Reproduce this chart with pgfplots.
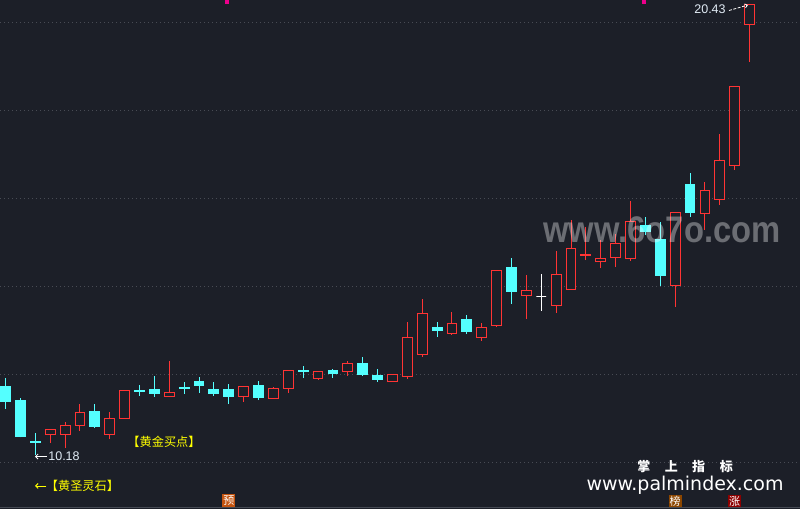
\documentclass[border=0pt]{standalone}
\usepackage{pgfplots}
\pgfplotsset{compat=1.18}
\usepackage{fontspec}
\setmainfont{Liberation Sans}
\newfontfamily\cjk{Noto Sans CJK SC}
\newfontfamily\dvs{DejaVu Sans}
\usetikzlibrary{arrows.meta}
\definecolor{bg}{RGB}{28,31,40}
\definecolor{cup}{RGB}{255,52,52}
\definecolor{cdn}{RGB}{84,255,255}
\definecolor{cgrid}{RGB}{72,75,84}
\definecolor{clabel}{RGB}{225,235,245}
\definecolor{cyel}{RGB}{255,255,0}
\definecolor{cyu}{RGB}{196,84,16}
\definecolor{cbang}{RGB}{140,70,0}
\definecolor{czhang}{RGB}{140,0,0}
\definecolor{cborder}{RGB}{70,74,84}
\tikzset{
 up wick/.style={draw=cup, line width=1bp},
 up body/.style={draw=cup, fill=bg, line width=1bp},
 dn wick/.style={draw=cdn, line width=1bp},
 dn body/.style={draw=cdn, fill=cdn, line width=1bp},
 wt wick/.style={draw=white, line width=1bp},
 wt body/.style={draw=white, fill=white, line width=1bp},
}
% #1 type, #2 index, #3 open, #4 high, #5 low, #6 close
\newcommand\cdl[6]{%
 \pgfmathsetmacro\xl{#2-0.33}\pgfmathsetmacro\xr{#2+0.33}%
 \addplot[#1 wick] coordinates {(#2,#5) (#2,#4)};
 \addplot[#1 body] coordinates {(\xl,#3) (\xr,#3) (\xr,#6) (\xl,#6)} -- cycle;
}
\begin{document}
\begin{tikzpicture}
\begin{axis}[
  width=800bp, height=509bp, scale only axis,
  xmin=-0.376, xmax=53.39, ymin=8.9545, ymax=20.5227,
  axis background/.style={fill=bg},
  axis line style={draw=none},
  xtick=\empty,
  ytick={10,12,14,16,18,20}, yticklabels={}, ytick style={draw=none},
  major tick length=0pt,
  ymajorgrids, grid style={cgrid, line width=1bp, dash pattern=on 1bp off 3bp},
]
\coordinate (bl) at (rel axis cs:0,0);
\coordinate (tr) at (rel axis cs:1,1);
\cdl{dn}{0}{11.73}{11.94}{11.23}{11.39}
\cdl{dn}{1}{11.41}{11.48}{10.58}{10.60}
\cdl{dn}{2}{10.49}{10.68}{10.18}{10.47}
\cdl{up}{3}{10.65}{10.75}{10.46}{10.75}
\cdl{up}{4}{10.65}{10.93}{10.35}{10.86}
\cdl{up}{5}{10.86}{11.34}{10.73}{11.14}
\cdl{dn}{6}{11.16}{11.34}{10.80}{10.83}
\cdl{up}{7}{10.64}{11.17}{10.55}{11.02}
\cdl{up}{8}{11.01}{11.65}{11.01}{11.65}
\cdl{dn}{9}{11.65}{11.77}{11.53}{11.63}
\cdl{dn}{10}{11.68}{11.98}{11.51}{11.57}
\cdl{up}{11}{11.51}{12.32}{11.51}{11.61}
\cdl{dn}{12}{11.72}{11.84}{11.57}{11.70}
\cdl{dn}{13}{11.85}{11.95}{11.60}{11.77}
\cdl{dn}{14}{11.66}{11.84}{11.53}{11.59}
\cdl{dn}{15}{11.68}{11.80}{11.35}{11.51}
\cdl{up}{16}{11.51}{11.74}{11.39}{11.74}
\cdl{dn}{17}{11.75}{11.86}{11.43}{11.48}
\cdl{up}{18}{11.47}{11.73}{11.47}{11.70}
\cdl{up}{19}{11.69}{12.11}{11.60}{12.11}
\cdl{dn}{20}{12.11}{12.20}{11.93}{12.08}
\cdl{up}{21}{11.92}{12.08}{11.89}{12.08}
\cdl{dn}{22}{12.11}{12.14}{11.93}{12.03}
\cdl{up}{23}{12.08}{12.32}{11.98}{12.27}
\cdl{dn}{24}{12.25}{12.41}{11.98}{12.00}
\cdl{dn}{25}{11.98}{12.14}{11.85}{11.89}
\cdl{up}{26}{11.85}{12.02}{11.85}{12.02}
\cdl{up}{27}{11.96}{13.20}{11.92}{12.86}
\cdl{up}{28}{12.46}{13.73}{12.42}{13.40}
\cdl{dn}{29}{13.08}{13.21}{12.87}{13.02}
\cdl{up}{30}{12.94}{13.43}{12.92}{13.18}
\cdl{dn}{31}{13.27}{13.36}{12.93}{12.98}
\cdl{up}{32}{12.85}{13.18}{12.78}{13.08}
\cdl{up}{33}{13.12}{14.38}{13.09}{14.38}
\cdl{dn}{34}{14.45}{14.66}{13.62}{13.89}
\cdl{up}{35}{13.80}{14.27}{13.27}{13.93}
\cdl{wt}{36}{13.79}{14.30}{13.46}{13.79}
\cdl{up}{37}{13.58}{14.82}{13.42}{14.29}
\cdl{up}{38}{13.95}{15.52}{13.95}{14.88}
\cdl{up}{39}{14.71}{15.36}{14.61}{14.74}
\cdl{up}{40}{14.58}{15.07}{14.43}{14.65}
\cdl{up}{41}{14.68}{15.20}{14.46}{14.99}
\cdl{up}{42}{14.65}{15.95}{14.60}{15.49}
\cdl{dn}{43}{15.39}{15.59}{15.19}{15.25}
\cdl{dn}{44}{15.07}{15.48}{14.03}{14.27}
\cdl{up}{45}{14.03}{15.70}{13.55}{15.70}
\cdl{dn}{46}{16.34}{16.59}{15.60}{15.69}
\cdl{up}{47}{15.67}{16.39}{15.30}{16.20}
\cdl{up}{48}{15.98}{17.48}{15.87}{16.88}
\cdl{up}{49}{16.76}{18.56}{16.67}{18.56}
\cdl{up}{50}{19.96}{20.43}{19.12}{20.43}
% magenta signal marks
\addplot[only marks, mark=square*, mark size=1.5bp, color=magenta] coordinates {(14.86,20.49) (42.86,20.49)};
% watermark
\node[anchor=base, inner sep=0, text=white, opacity=0.35, xscale=0.885,
  font=\bfseries\fontsize{37bp}{40bp}\selectfont] at (rel axis cs:0.8275,0.5226) {www.6o7o.com};
% price annotations
\node[inner sep=0, text=clabel, font=\fontsize{12.5bp}{14bp}\selectfont] at (rel axis cs:0.8875,0.9813) {20.43};
\draw[white, line width=0.8bp, dash pattern=on 3bp off 1.5bp, -{Straight Barb[length=2.5bp,width=4bp]}]
  (rel axis cs:0.91125,0.97937) -- (rel axis cs:0.935,0.99018);
\draw[white, line width=0.8bp, -{Straight Barb[length=2.5bp,width=5bp]}]
  (rel axis cs:0.05875,0.10314) -- (rel axis cs:0.04375,0.10314);
\node[inner sep=0, text=clabel, font=\fontsize{12.5bp}{14bp}\selectfont] at (rel axis cs:0.08,0.10472) {10.18};
% yellow texts
\node[inner sep=0, text=cyel, font=\cjk\fontsize{12.2bp}{14bp}\selectfont] at (rel axis cs:0.205,0.13163) {【黄金买点】};
\draw[cyel, line width=0.9bp, -{Straight Barb[length=2.5bp,width=5bp]}]
  (rel axis cs:0.0581,0.04519) -- (rel axis cs:0.04375,0.04519);
\node[inner sep=0, text=cyel, font=\cjk\fontsize{12.2bp}{14bp}\selectfont] at (rel axis cs:0.103125,0.04519) {【黄圣灵石】};
% bottom markers
\node[fill=cyu, text=white, inner sep=0, minimum size=13bp, font=\cjk\fontsize{11bp}{12bp}\selectfont] at (axis cs:15,9.148) {预};
\node[fill=cbang, text=white, inner sep=0, minimum size=13bp, font=\cjk\fontsize{11bp}{12bp}\selectfont] at (axis cs:45,9.13) {榜};
\node[fill=czhang, text=white, inner sep=0, minimum size=13bp, font=\cjk\fontsize{11bp}{12bp}\selectfont] at (axis cs:49,9.13) {涨};
% site marks
\node[inner sep=0, text=white, font=\cjk\bfseries\fontsize{13bp}{14bp}\selectfont] at (rel axis cs:0.85625,0.08251) {掌\hspace{14.5bp}上\hspace{14.5bp}指\hspace{14.5bp}标};
\node[anchor=base, inner sep=0, text=white, font=\dvs\fontsize{19bp}{21bp}\selectfont] at (rel axis cs:0.85625,0.03733) {www.palmindex.com};
\draw[cborder, line width=1.2bp] (rel axis cs:0,0.0025) -- (rel axis cs:1,0.0025);
\end{axis}
\pgfresetboundingbox
\useasboundingbox (bl) rectangle (tr);
\end{tikzpicture}
\end{document}
